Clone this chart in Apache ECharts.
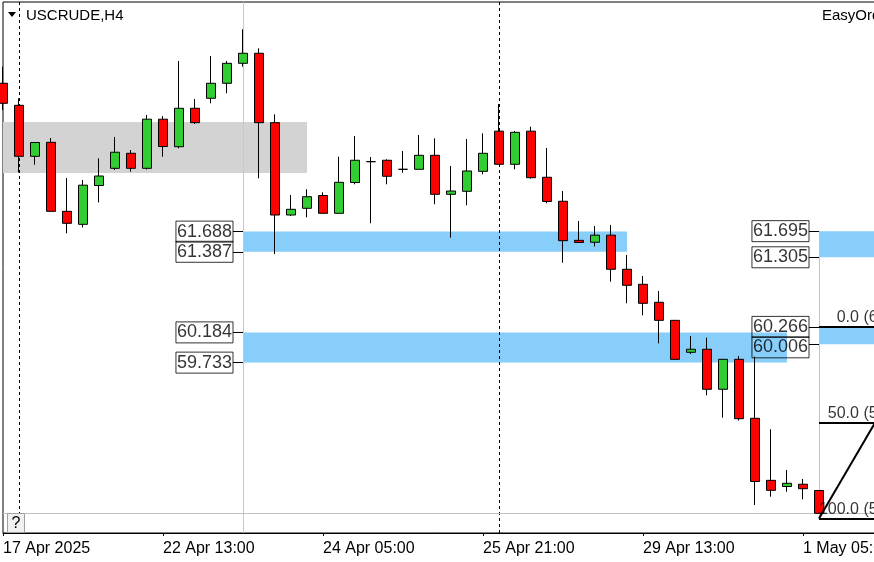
<!DOCTYPE html>
<html><head><meta charset="utf-8">
<script src="https://cdn.jsdelivr.net/npm/echarts@6/dist/echarts.min.js"></script>
<style>html,body{margin:0;padding:0;background:#fff;overflow:hidden}#c{width:874px;height:562px}</style>
</head><body><div id="c"></div>
<script>
// ---- data (USCRUDE, H4) ----
const opens  = [63.902,63.573,62.812,63.021,61.991,61.797,62.376,62.633,62.857,62.633,63.366,62.955,63.529,63.678,63.902,64.200,64.350,63.314,61.936,62.036,62.227,61.961,62.421,62.732,62.753,62.618,62.618,62.827,62.245,62.290,62.588,63.187,62.693,63.187,62.499,62.141,61.558,61.529,61.635,61.126,60.902,60.633,60.364,59.887,59.932,59.335,59.782,58.902,57.976,57.884,57.918,57.824];
const closes = [63.603,62.812,63.018,61.991,61.812,62.381,62.518,62.873,62.633,63.366,62.958,63.529,63.314,63.902,64.200,64.350,63.314,61.936,62.021,62.209,61.961,62.424,62.753,62.732,62.514,62.618,62.827,62.245,62.294,62.593,62.857,62.693,63.170,62.493,62.138,61.553,61.526,61.635,61.126,60.887,60.618,60.364,59.782,59.932,59.335,59.782,58.896,57.958,57.827,57.932,57.851,57.484];
const lows   = [63.503,62.570,62.687,61.991,61.663,61.750,62.123,62.608,62.582,62.615,62.806,62.932,63.294,63.603,63.753,64.150,62.484,61.354,61.921,61.902,61.961,61.961,62.394,61.812,62.394,62.567,62.618,62.096,61.597,62.081,62.544,62.693,62.618,62.478,62.111,61.224,61.526,61.466,60.941,60.618,60.439,60.021,59.782,59.861,59.245,58.911,58.869,57.608,57.732,57.806,57.693,57.484];
const highs  = [64.150,63.678,63.018,63.085,62.488,62.458,62.782,63.100,62.906,63.429,63.414,64.235,63.667,64.309,64.235,64.708,64.424,63.439,62.235,62.320,62.275,62.806,63.115,62.802,62.767,62.891,63.130,63.081,62.667,63.070,63.155,63.593,63.190,63.254,62.936,62.294,61.847,61.772,61.787,61.339,61.026,60.802,60.364,60.130,60.105,59.782,59.832,59.821,58.738,58.130,57.996,57.824];
const xTickLabels = ['17 Apr 2025','22 Apr 13:00','24 Apr 05:00','25 Apr 21:00','29 Apr 13:00','1 May 05:00'];

const supplyZone  = [0, 19, 63.324, 62.563];           // [fromBar, toBar, top, bottom]
const demandZones = [[15, 39, 61.688, 61.387],
                     [15, 49, 60.184, 59.733],
                     [51, 56, 61.695, 61.305],
                     [51, 56, 60.266, 60.006]];
const leftLabelPrices  = [61.688, 61.387, 60.184, 59.733];
const rightLabelPrices = [61.695, 61.305, 60.266, 60.006];
const fibLevels = ['0.0', '50.0', '100.0'];
const fibPrices = [60.266, 58.836, 57.405];
const weekSeparators = [1, 31];
const zoneStartBar = 15;
const fibBar = 51;
const fibTrendEndBar = 58;
const fibLabelBar = 57.5;
const bidPrice = 57.484;

const Y_MIN = 57.19, Y_MAX = 65.115, X_MIN = 0, X_MAX = 55;
const FONT = 'Liberation Sans';

const candles = opens.map((o, i) => [i, o, closes[i], lows[i], highs[i]]);

const zoneAreas = [[{coord: [supplyZone[0], supplyZone[2]], itemStyle: {color: '#d3d3d3'}}, {coord: [supplyZone[1], supplyZone[3]]}]]
  .concat(demandZones.map(z => [{coord: [z[0], z[2]], itemStyle: {color: '#87cefa'}}, {coord: [z[1], z[3]]}]));

const ls = (color, width, type) => ({color: color, width: width, type: type || 'solid', opacity: 1, curveness: 0});
const bgLines = [];
weekSeparators.forEach(b => bgLines.push({coords: [[b, Y_MIN], [b, Y_MAX]], lineStyle: ls('#000', 1, [3, 3])}));
bgLines.push({coords: [[zoneStartBar, Y_MIN], [zoneStartBar, Y_MAX]], lineStyle: ls('#c8c8c8', 1)});
bgLines.push({coords: [[X_MIN, bidPrice], [X_MAX, bidPrice]], lineStyle: ls('#c0c0c0', 1)});
bgLines.push({coords: [[fibBar, rightLabelPrices[0]], [fibBar, fibPrices[2]]], lineStyle: ls('#b4c8dc', 1)});

const fgLines = [];
leftLabelPrices.forEach(p => fgLines.push({coords: [[zoneStartBar - 0.625, p], [zoneStartBar, p]], lineStyle: ls('#000', 1)}));
rightLabelPrices.forEach(p => fgLines.push({coords: [[fibBar - 0.625, p], [fibBar, p]], lineStyle: ls('#000', 1)}));
fibPrices.forEach(p => fgLines.push({coords: [[fibBar, p], [X_MAX, p]], lineStyle: ls('#000', 2)}));
fgLines.push({coords: [[fibBar, fibPrices[2]], [fibTrendEndBar, fibPrices[0]]], lineStyle: ls('#000', 2)});

const labelStyle = {
  show: true, position: 'left', distance: 10, fontSize: 18, fontFamily: FONT, color: '#000',
  borderColor: '#000', borderWidth: 1, padding: [1, 1, 0, 1], lineHeight: 20,
  formatter: p => p.value[1].toFixed(3)
};
const priceLabels = leftLabelPrices.map(p => ({value: [zoneStartBar, p]}))
  .concat(rightLabelPrices.map((p, i) => i === 3 ? {value: [fibBar, p], label: {offset: [0, 3]}} : {value: [fibBar, p]}));

const fibLabelData = fibPrices.map((p, i) => ({value: [fibLabelBar, p], name: fibLevels[i] + ' (' + p.toFixed(3) + ')'}));

const chart = echarts.init(document.getElementById('c'), null, {renderer: 'canvas'});
chart.setOption({
  animation: false,
  backgroundColor: '#fff',
  grid: {left: 3, top: 2, width: 880, height: 531, show: true, borderColor: '#000', borderWidth: 1,
         backgroundColor: '#fff', outerBoundsMode: 'none', containLabel: false},
  xAxis: {
    type: 'value', min: X_MIN, max: X_MAX, interval: 10,
    axisLine: {show: true, onZero: false, lineStyle: {color: '#000', width: 1}},
    axisTick: {show: true, length: 3, lineStyle: {color: '#000'}},
    axisLabel: {
      show: true, margin: 8, fontSize: 16, fontFamily: FONT, color: '#000', align: 'left',
      showMaxLabel: false, hideOverlap: false,
      formatter: v => { const k = Math.round(v / 10); return (Math.abs(v - k * 10) < 1e-6 && xTickLabels[k]) || ''; }
    },
    splitLine: {show: false}
  },
  yAxis: {
    type: 'value', min: Y_MIN, max: Y_MAX, scale: true,
    axisLine: {show: false}, axisTick: {show: false}, axisLabel: {show: false}, splitLine: {show: false}
  },
  graphic: [
    {type: 'polygon', shape: {points: [[8, 12], [16, 12], [12, 17]]}, style: {fill: '#000'}, z: 100},
    {type: 'text', x: 26, y: 16, style: {text: 'USCRUDE,H4', fontSize: 15, fontFamily: FONT, fill: '#000', verticalAlign: 'middle'}, z: 100},
    {type: 'text', x: 822, y: 16, style: {text: 'EasyOrders', fontSize: 15, fontFamily: FONT, fill: '#000', verticalAlign: 'middle'}, z: 100},
    {type: 'rect', shape: {x: 7.5, y: 513.5, width: 17, height: 19}, style: {fill: '#f0f0f0', stroke: '#a0a0a0', lineWidth: 1}, z: 100},
    {type: 'text', x: 16, y: 523.5, style: {text: '?', fontSize: 16, fontFamily: FONT, fill: '#000', align: 'center', verticalAlign: 'middle'}, z: 101}
  ],
  series: [
    {type: 'line', data: [], z: 1, silent: true,
     markArea: {silent: true, data: zoneAreas}},
    {type: 'lines', coordinateSystem: 'cartesian2d', z: 2, silent: true, clip: true, polyline: false,
     lineStyle: {opacity: 1}, data: bgLines},
    {type: 'candlestick', z: 3, silent: true, clip: true, barWidth: 9,
     encode: {x: 0, y: [1, 2, 3, 4]},
     data: candles,
     itemStyle: {color: '#32cd32', color0: '#ff0000', borderColor: '#000', borderColor0: '#000', borderColorDoji: '#000', borderWidth: 1}},
    {type: 'lines', coordinateSystem: 'cartesian2d', z: 4, silent: true, clip: true, polyline: false,
     lineStyle: {opacity: 1}, data: fgLines},
    {type: 'scatter', z: 5, silent: true, symbolSize: 0, data: priceLabels, label: labelStyle},
    {type: 'scatter', z: 5, silent: true, symbolSize: 0, clip: false, data: fibLabelData,
     label: {show: true, position: [0, 0], align: 'right', verticalAlign: 'bottom', offset: [0, -1],
             fontSize: 16, fontFamily: FONT, color: '#000', formatter: p => p.name}}
  ]
});
</script>
</body></html>
